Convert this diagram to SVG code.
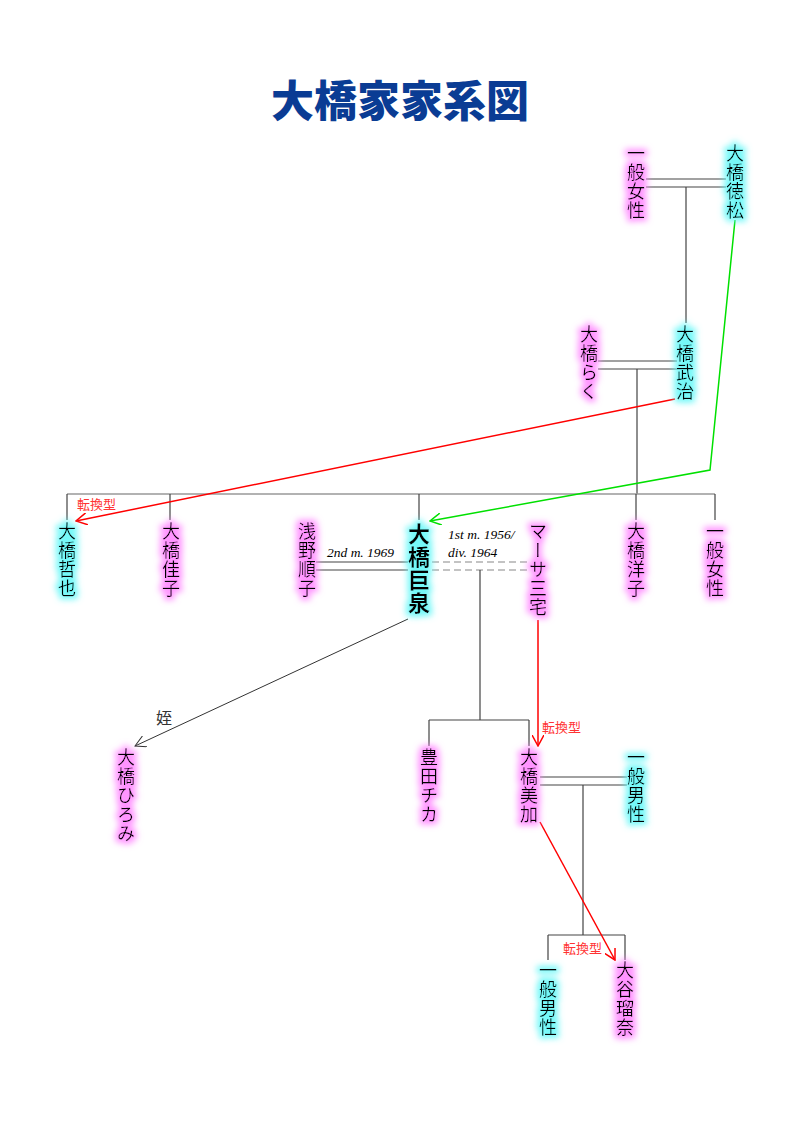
<svg xmlns="http://www.w3.org/2000/svg" width="800" height="1132" viewBox="0 0 800 1132">
<defs>
<style>
.n{font-family:"Noto Sans CJK JP","Noto Sans CJK SC",sans-serif;font-size:18px;fill:#000;writing-mode:vertical-rl;text-orientation:upright;letter-spacing:1px}
.b{font-size:22px;font-weight:bold;letter-spacing:1px}
.ln{stroke:#444;stroke-width:1.2;fill:none}
.sib{stroke:#999;stroke-width:1.5;fill:none}
.dash{stroke:#888;stroke-width:1.2;fill:none;stroke-dasharray:7,4}
.red{stroke:#ff0000;stroke-width:1.5;fill:none}
.grn{stroke:#00e000;stroke-width:1.5;fill:none}
.blk{stroke:#333;stroke-width:1;fill:none}
.lbl{font-family:"Noto Sans CJK JP",sans-serif;font-size:13px;fill:#ff3333}
.it{font-family:"Liberation Serif",serif;font-style:italic;font-size:13.5px;fill:#000}
</style>
<filter id="gp" x="-100%" y="-30%" width="300%" height="160%">
<feMorphology in="SourceAlpha" operator="dilate" radius="3" result="d"/>
<feGaussianBlur in="d" stdDeviation="3" result="b"/>
<feFlood flood-color="#ff80ff" flood-opacity="0.85"/>
<feComposite in2="b" operator="in" result="g"/>
<feMerge><feMergeNode in="g"/><feMergeNode in="SourceGraphic"/></feMerge>
</filter>
<filter id="gc" x="-100%" y="-30%" width="300%" height="160%">
<feMorphology in="SourceAlpha" operator="dilate" radius="3" result="d"/>
<feGaussianBlur in="d" stdDeviation="3" result="b"/>
<feFlood flood-color="#5cf7f7" flood-opacity="0.85"/>
<feComposite in2="b" operator="in" result="g"/>
<feMerge><feMergeNode in="g"/><feMergeNode in="SourceGraphic"/></feMerge>
</filter>
<marker id="ar" viewBox="0 0 12 12" refX="11" refY="6" markerWidth="12" markerHeight="12" markerUnits="userSpaceOnUse" orient="auto">
<path d="M0,0 L11,6 L0,12" fill="none" stroke="#ff0000" stroke-width="1.5"/>
</marker>
<marker id="ag" viewBox="0 0 12 12" refX="11" refY="6" markerWidth="12" markerHeight="12" markerUnits="userSpaceOnUse" orient="auto">
<path d="M0,0 L11,6 L0,12" fill="none" stroke="#00e000" stroke-width="1.5"/>
</marker>
<marker id="ab" viewBox="0 0 12 12" refX="11" refY="6" markerWidth="12" markerHeight="12" markerUnits="userSpaceOnUse" orient="auto">
<path d="M0,0 L11,6 L0,12" fill="none" stroke="#333" stroke-width="1"/>
</marker>
</defs>
<rect width="800" height="1132" fill="#fff"/>
<text x="400" y="117" text-anchor="middle" font-family="Noto Sans CJK JP, sans-serif" font-size="43" font-weight="900" fill="#0a3c94">大橋家家系図</text>

<g id="connectors">
<path class="ln" d="M646,179 H726 M646,187 H726 M686,187 V323"/>
<path class="ln" d="M598,361 H677 M598,369 H677 M637,369 V494"/>
<path class="sib" d="M67,494 H715"/>
<path class="ln" d="M67,494 V520 M170,494 V520 M419,494 V520 M636,494 V520 M715,494 V520"/>
<path class="ln" d="M316,562 H408 M316,570 H408"/>
<path class="dash" d="M432,562 H528 M432,570 H528"/>
<path class="ln" d="M480,570 V720 M429,720 H529 M429,720 V746 M529,720 V746"/>
<path class="ln" d="M540,777 H627 M540,785 H627 M583,785 V935 M548,935 H625 M548,935 V960 M625,935 V960"/>
<path class="red" d="M675,399 L76,521" marker-end="url(#ar)"/>
<path class="grn" d="M735,220 L710,470 L430,521" marker-end="url(#ag)"/>
<path class="red" d="M538,620 V746" marker-end="url(#ar)"/>
<path class="red" d="M540,822 L615,960" marker-end="url(#ar)"/>
<path class="blk" d="M408,619 L135,746" marker-end="url(#ab)"/>
<text class="lbl" x="77" y="509">転換型</text>
<text class="lbl" x="542" y="732">転換型</text>
<text class="lbl" x="563" y="953">転換型</text>
<text x="164" y="724" font-family="Noto Sans CJK JP, sans-serif" font-size="16" fill="#333" text-anchor="middle">姪</text>
<text class="it" x="327" y="557">2nd m. 1969</text>
<text class="it" x="448" y="539">1st m. 1956/</text>
<text class="it" x="448" y="557">div. 1964</text>
</g>

<g id="n-ippan-josei-1" filter="url(#gp)"><text class="n" x="636" y="144">一般女性</text></g>
<g id="n-tokumatsu" filter="url(#gc)"><text class="n" x="735" y="144">大橋徳松</text></g>
<g id="n-raku" filter="url(#gp)"><text class="n" x="589" y="325">大橋らく</text></g>
<g id="n-takeji" filter="url(#gc)"><text class="n" x="685" y="325">大橋武治</text></g>
<g id="n-tetsuya" filter="url(#gc)"><text class="n" x="67" y="522">大橋哲也</text></g>
<g id="n-keiko" filter="url(#gp)"><text class="n" x="171" y="522">大橋佳子</text></g>
<g id="n-junko" filter="url(#gp)"><text class="n" x="307" y="522">浅野順子</text></g>
<g id="n-kyosen" filter="url(#gc)"><text class="n b" x="419" y="523">大橋巨泉</text></g>
<g id="n-masa" filter="url(#gp)"><text class="n" x="538" y="522">マーサ三宅</text></g>
<g id="n-yoko" filter="url(#gp)"><text class="n" x="636" y="522">大橋洋子</text></g>
<g id="n-ippan-josei-2" filter="url(#gp)"><text class="n" x="715" y="522">一般女性</text></g>
<g id="n-hiromi" filter="url(#gp)"><text class="n" x="126" y="748">大橋ひろみ</text></g>
<g id="n-chika" filter="url(#gp)"><text class="n" x="429" y="748">豊田チカ</text></g>
<g id="n-mika" filter="url(#gp)"><text class="n" x="529" y="748">大橋美加</text></g>
<g id="n-ippan-dansei-1" filter="url(#gc)"><text class="n" x="636" y="748">一般男性</text></g>
<g id="n-ippan-dansei-2" filter="url(#gc)"><text class="n" x="548" y="961">一般男性</text></g>
<g id="n-runa" filter="url(#gp)"><text class="n" x="625" y="961">大谷瑠奈</text></g>
</svg>
